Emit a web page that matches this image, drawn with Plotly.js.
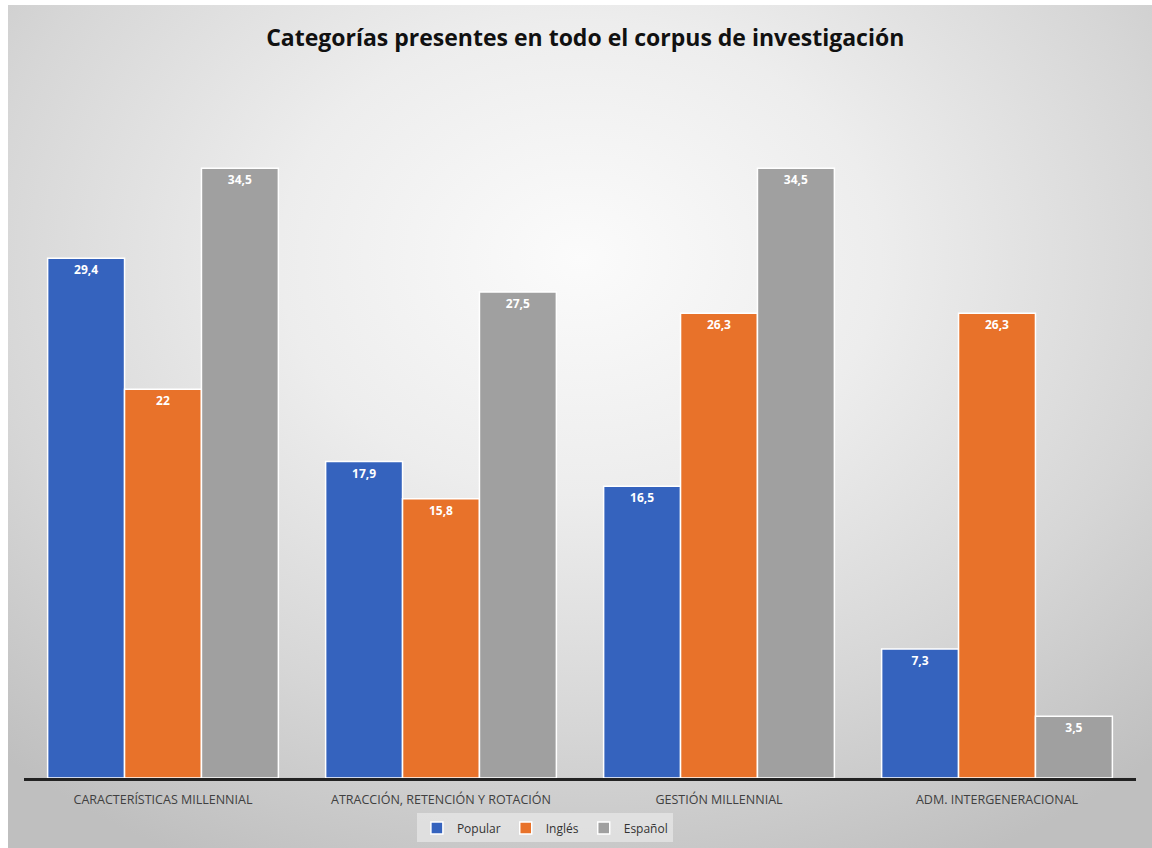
<!DOCTYPE html>
<html>
<head>
<meta charset="utf-8">
<script src="https://cdn.plot.ly/plotly-3.0.1.min.js"></script>
<style>
  html, body { margin: 0; padding: 0; background: #ffffff; overflow: hidden; }
  #bg { position: absolute; left: 8px; top: 5px; width: 1144px; height: 843px;
        background: radial-gradient(ellipse 75% 80% at 50% 30%, #fbfbfb 0%, #ededed 35%, #d6d6d6 70%, #bfbfbf 100%); }
  #chart { position: absolute; left: 0; top: 0; width: 1152px; height: 848px; }
</style>
</head>
<body>
<div id="bg"></div>
<div id="chart"></div>
<script>
const categories = ["CARACTERÍSTICAS MILLENNIAL", "ATRACCIÓN, RETENCIÓN Y ROTACIÓN", "GESTIÓN MILLENNIAL", "ADM. INTERGENERACIONAL"];
const popular = [29.4, 17.9, 16.5, 7.3];
const ingles = [22, 15.8, 26.3, 26.3];
const espanol = [34.5, 27.5, 34.5, 3.5];
const seriesNames = ["Popular", "Inglés", "Español"];
const colors = ["#3563be", "#e8722a", "#a0a0a0"];

const fmt = v => String(v).replace('.', ',');
const allSeries = [popular, ingles, espanol];

const traces = allSeries.map((vals, i) => ({
  type: 'bar',
  name: seriesNames[i],
  x: categories,
  y: vals,
  text: vals.map(fmt),
  textposition: 'inside',
  insidetextanchor: 'end',
  textangle: 0,
  textfont: { family: 'Open Sans, sans-serif', size: 12, color: '#ffffff', weight: 'bold' },
  marker: { color: colors[i], line: { color: '#ffffff', width: 1.5 } },
  hoverinfo: 'x+y+name'
}));

const layout = {
  width: 1152,
  height: 848,
  paper_bgcolor: 'rgba(0,0,0,0)',
  plot_bgcolor: 'rgba(0,0,0,0)',
  margin: { l: 24, r: 16, t: 71, b: 70, autoexpand: false },
  title: {
    text: 'Categorías presentes en todo el corpus de investigación',
    font: { family: 'Open Sans, sans-serif', size: 23, color: '#111111', weight: 'bold' },
    x: 0.508, xanchor: 'center', y: 0.955, yanchor: 'middle'
  },
  barmode: 'group',
  bargap: 0.17,
  bargroupgap: 0,
  showlegend: true,
  legend: {
    orientation: 'h', xref: 'container', yref: 'container',
    x: 0.473, xanchor: 'center', y: 0.0236, yanchor: 'middle',
    bgcolor: 'rgba(232,232,232,0.7)',
    font: { family: 'Open Sans, sans-serif', size: 12, color: '#333333' },
    itemwidth: 30, tracegroupgap: 0
  },
  xaxis: {
    type: 'category', automargin: false,
    showline: true, linecolor: '#222222', linewidth: 2.5,
    ticks: '', showgrid: false, zeroline: false,
    tickfont: { family: 'Open Sans, sans-serif', size: 12.5, color: '#404040' },
    ticklabelstandoff: 8
  },
  yaxis: {
    range: [0, 40], showgrid: false, zeroline: false, showticklabels: false,
    showline: false, ticks: '', automargin: false
  }
};

Plotly.newPlot('chart', traces, layout, { displayModeBar: false, staticPlot: true });
</script>
</body>
</html>
